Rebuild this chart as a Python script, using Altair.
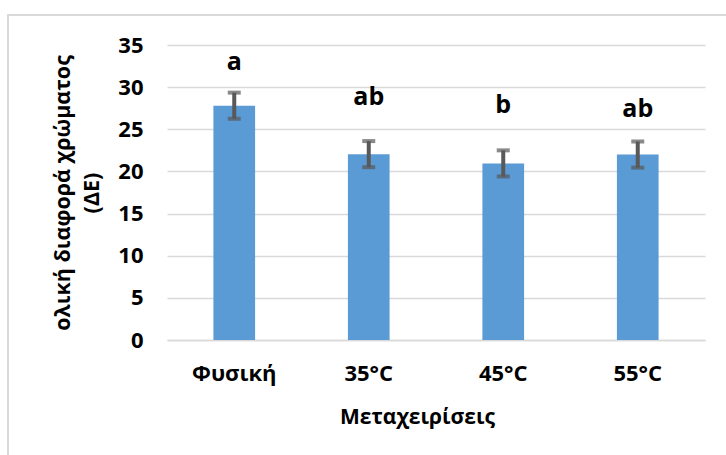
import altair as alt
import pandas as pd

# Total colour difference (ΔE) per treatment, with error bars and significance letters
treatments = ["Φυσική", "35°C", "45°C", "55°C"]
delta_e = [27.8, 22.05, 20.95, 22.0]
err = [1.55, 1.55, 1.55, 1.55]
letters = ["a", "ab", "b", "ab"]
letter_y = [32.0, 27.9, 26.9, 26.5]

df = pd.DataFrame({
    "treatment": treatments,
    "value": delta_e,
    "lo": [v - e for v, e in zip(delta_e, err)],
    "hi": [v + e for v, e in zip(delta_e, err)],
    "letter": letters,
    "letter_y": letter_y,
})

FONT = "Open Sans"
W, H = 538, 295

x = alt.X(
    "treatment:N",
    sort=treatments,
    scale=alt.Scale(paddingInner=0.69, paddingOuter=0.345),
    axis=alt.Axis(
        title="Μεταχειρίσεις",
        labelAngle=0,
        labelFont=FONT,
        labelFontSize=22,
        labelFontWeight="bold",
        labelColor="#000000",
        labelPadding=23,
        ticks=False,
        domain=True,
        domainColor="#d9d9d9",
        domainWidth=1.3,
        titleFont=FONT,
        titleFontSize=21,
        titleFontWeight="bold",
        titleColor="#000000",
        titlePadding=22,
        titleX=250,
        titleAnchor="start",
        titleAlign="center",
    ),
)

y_scale = alt.Scale(domain=[0, 35], nice=False)

bars = alt.Chart(df).mark_bar(color="#5b9bd5").encode(
    x=x,
    y=alt.Y(
        "value:Q",
        scale=y_scale,
        axis=alt.Axis(
            values=[0, 5, 10, 15, 20, 25, 30, 35],
            title=["ολική διαφορά χρώματος", "(ΔΕ)"],
            labelFont=FONT,
            labelFontSize=22,
            labelFontWeight="bold",
            labelColor="#000000",
            labelPadding=24,
            ticks=False,
            domain=False,
            grid=True,
            gridColor="#d9d9d9",
            gridWidth=1.3,
            titleFont=FONT,
            titleFontSize=21.5,
            titleFontWeight="bold",
            titleColor="#000000",
            titleLineHeight=29,
            titlePadding=14,
        ),
    ),
)

stems = alt.Chart(df).mark_rule(color="#595959", strokeWidth=4).encode(
    x=alt.X("treatment:N", sort=treatments),
    y=alt.Y("lo:Q", scale=y_scale),
    y2="hi:Q",
)

caps_hi = alt.Chart(df).mark_tick(
    color="#595959", thickness=4, size=13, orient="horizontal"
).encode(x=alt.X("treatment:N", sort=treatments), y=alt.Y("hi:Q", scale=y_scale))

caps_lo = alt.Chart(df).mark_tick(
    color="#595959", thickness=4, size=13, orient="horizontal"
).encode(x=alt.X("treatment:N", sort=treatments), y=alt.Y("lo:Q", scale=y_scale))

labels = alt.Chart(df).mark_text(
    font=FONT, fontSize=25, fontWeight="bold", color="#000000", baseline="alphabetic"
).encode(
    x=alt.X("treatment:N", sort=treatments),
    y=alt.Y("letter_y:Q", scale=y_scale),
    text="letter:N",
)

# light frame around the whole chart area
frame = alt.Chart(df).mark_rect(
    fill=None, stroke="#d9d9d9", strokeWidth=1.5
).encode(
    x=alt.value(-159), x2=alt.value(W + 60),
    y=alt.value(-30), y2=alt.value(H + 200),
)

chart = alt.layer(frame, bars, stems, caps_hi, caps_lo, labels).properties(
    width=W,
    height=H,
    autosize="none",
    padding={"left": 167, "top": 45, "right": 21, "bottom": 115},
    background="#ffffff",
).configure_view(stroke=None)

chart.save("out.html", embed_options={"renderer": "svg", "actions": False})
